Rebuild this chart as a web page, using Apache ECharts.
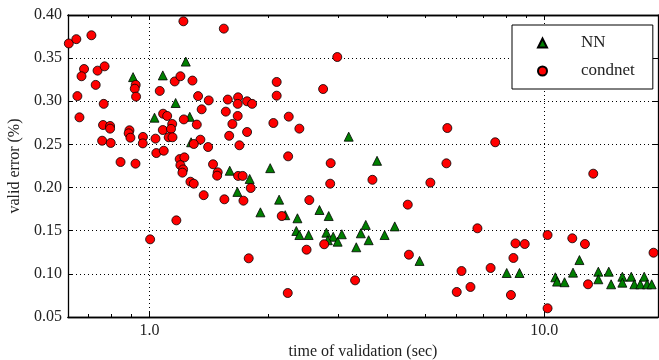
<!DOCTYPE html>
<html>
<head>
<meta charset="utf-8">
<script src="https://cdn.jsdelivr.net/npm/echarts@6/dist/echarts.min.js"></script>
<style>
    html, body { margin: 0; padding: 0; background: #fff; }
    #chart { width: 659px; height: 360px; }
</style>
</head>
<body>
<div id="chart"></div>
<script>
// NN 结果 (时间, 误差)
const nnTime = [0.909, 1.081, 1.236, 1.165, 1.030, 1.265, 1.275, 1.597, 2.022, 1.794,
    1.670, 2.13, 1.910, 2.695, 2.844, 2.37, 2.207, 2.355, 2.397, 2.53,
    2.806, 2.92, 2.83, 2.996, 3.07, 3.34, 3.43, 3.53, 3.59, 3.94,
    4.18, 4.83, 3.196, 3.77, 8.03, 8.65, 10.66, 10.77, 11.25, 11.82,
    12.27, 13.7, 13.7, 14.56, 14.76, 15.76, 15.76, 16.6, 16.9, 17.5,
    17.9, 18.2, 18.7];
const nnError = [0.328, 0.330, 0.346, 0.298, 0.281, 0.282, 0.2525, 0.2195, 0.2225, 0.210,
    0.195, 0.186, 0.1713, 0.174, 0.167, 0.1644, 0.168, 0.1497, 0.145, 0.145,
    0.1477, 0.143, 0.139, 0.1373, 0.1459, 0.1308, 0.147, 0.1567, 0.139, 0.145,
    0.155, 0.115, 0.259, 0.231, 0.101, 0.101, 0.096, 0.091, 0.0903, 0.1014,
    0.116, 0.1025, 0.0937, 0.1025, 0.0879, 0.0967, 0.0898, 0.0967, 0.0879, 0.0879,
    0.0967, 0.0879, 0.0879];

// condnet 结果 (时间, 误差)
const condnetTime = [0.625, 0.653, 0.713, 0.683, 0.673, 0.739, 0.770, 0.731, 0.657, 0.665,
    0.766, 0.763, 0.795, 0.795, 0.759, 0.798, 0.845, 0.890, 0.886, 0.895,
    0.922, 0.923, 0.918, 0.925, 0.963, 0.962, 1.036, 1.041, 1.087, 1.062,
    1.083, 1.109, 1.081, 1.142, 1.134, 1.119, 1.144, 1.159, 1.198, 1.219,
    1.285, 1.328, 1.413, 1.356, 1.222, 1.318, 1.346, 1.295, 1.408, 1.193,
    1.226, 1.198, 1.217, 1.212, 1.449, 1.489, 1.484, 1.270, 1.295, 1.372,
    1.170, 1.004, 1.543, 1.579, 1.677, 1.673, 1.767, 1.820, 1.561, 1.673,
    1.622, 1.592, 1.767, 1.690, 1.677, 1.722, 1.805, 1.548, 1.730, 1.784,
    2.10, 2.10, 2.06, 2.253, 2.397, 2.245, 2.163, 2.24, 2.50, 2.54,
    2.753, 2.99, 2.877, 2.869, 2.77, 3.317, 3.67, 4.51, 4.54, 5.145,
    5.68, 5.65, 7.51, 6.77, 6.17, 6.0, 6.5, 7.31, 8.45, 8.92,
    8.35, 8.23, 10.19, 10.19, 11.77, 12.67, 12.9, 13.3, 18.9];
const condnetError = [0.367, 0.372, 0.3765, 0.3374, 0.329, 0.3355, 0.3405, 0.319, 0.306, 0.2814,
    0.297, 0.2725, 0.2714, 0.2683, 0.2543, 0.2517, 0.2296, 0.2664, 0.2629, 0.2578,
    0.2277, 0.319, 0.3146, 0.3054, 0.2587, 0.2512, 0.2567, 0.240, 0.2427, 0.312,
    0.2856, 0.283, 0.2667, 0.2737, 0.268, 0.2583, 0.2583, 0.323, 0.329, 0.3927,
    0.324, 0.306, 0.301, 0.2907, 0.279, 0.273, 0.2555, 0.2505, 0.247, 0.233,
    0.235, 0.226, 0.221, 0.2173, 0.227, 0.2177, 0.2138, 0.2068, 0.2045, 0.1912,
    0.162, 0.140, 0.3842, 0.302, 0.3046, 0.297, 0.300, 0.297, 0.288, 0.283,
    0.2737, 0.260, 0.2644, 0.249, 0.2135, 0.2135, 0.1995, 0.1864, 0.1848, 0.118,
    0.3224, 0.3065, 0.2748, 0.2822, 0.2683, 0.2362, 0.167, 0.0778, 0.128, 0.1855,
    0.3142, 0.3513, 0.2283, 0.2045, 0.1343, 0.0925, 0.209, 0.1802, 0.1222, 0.2057,
    0.269, 0.2281, 0.2525, 0.1528, 0.1033, 0.079, 0.0848, 0.1068, 0.1353, 0.1346,
    0.1184, 0.0755, 0.145, 0.0601, 0.1412, 0.1346, 0.0879, 0.2161, 0.1245];

// 坐标轴刻度
const xMinorTicks = [0.7, 0.8, 0.9, 2, 3, 4, 5, 6, 7, 8, 9];
const xMajorTicks = [1, 10];
const X_MIN = 0.622;
const X_MAX = 19.4;

const FONT = 'Liberation Serif';
const TEXT_COLOR = '#222';

const zip = (xs, ys) => xs.map((x, i) => [x, ys[i]]);

// x 轴 (底部/顶部，主刻度/次刻度)
function makeXAxis(position, ticks, length, withLabel) {
    return {
        type: 'log',
        logBase: 10,
        min: X_MIN,
        max: X_MAX,
        position: position,
        axisLine: { show: true, onZero: false, lineStyle: { color: '#000', width: 1.3 } },
        axisTick: { show: true, inside: true, length: length, customValues: ticks, lineStyle: { color: '#000', width: 1 } },
        axisLabel: withLabel ? {
            show: true,
            customValues: xMajorTicks,
            formatter: v => Number(v).toFixed(1),
            fontFamily: FONT,
            fontSize: 16,
            color: TEXT_COLOR,
            margin: 6
        } : { show: false },
        splitLine: { show: false }
    };
}

const xAxes = [
    makeXAxis('bottom', xMajorTicks, 5, true),
    makeXAxis('bottom', xMinorTicks, 3, false),
    makeXAxis('top', xMajorTicks, 5, false),
    makeXAxis('top', xMinorTicks, 3, false)
];
xAxes[0].name = 'time of validation (sec)';
xAxes[0].nameLocation = 'middle';
xAxes[0].nameGap = 26;
xAxes[0].nameTextStyle = { fontFamily: FONT, fontSize: 16, color: TEXT_COLOR };

// 网格点线 (单独一根隐藏的轴来画)
xAxes.push({
    type: 'log', logBase: 10, min: X_MIN, max: X_MAX, position: 'bottom',
    axisLine: { show: false }, axisTick: { show: false }, axisLabel: { show: false },
    splitLine: { show: true, lineStyle: { color: '#000', width: 1, type: [1, 3] } }
});

const chart = echarts.init(document.getElementById('chart'), null, { renderer: 'canvas' });

const option = {
    animation: false,
    backgroundColor: '#fff',
    grid: { left: 68, right: 1, top: 15, bottom: 43, containLabel: false, outerBoundsMode: 'none' },
    legend: {
        orient: 'vertical',
        left: 512,
        top: 25,
        padding: [8, 18, 8, 25],
        itemGap: 8,
        itemWidth: 9,
        itemHeight: 9,
        backgroundColor: '#fff',
        borderColor: '#000',
        borderWidth: 1,
        borderRadius: 0,
        textStyle: { fontFamily: FONT, fontSize: 17, color: TEXT_COLOR, lineHeight: 20, padding: [0, 0, 0, 29] },
        data: ['NN', 'condnet']
    },
    xAxis: xAxes,
    yAxis: [
        {
            type: 'value',
            min: 0.05,
            max: 0.40,
            interval: 0.05,
            position: 'left',
            name: 'valid error (%)',
            nameLocation: 'middle',
            nameGap: 40,
            nameTextStyle: { fontFamily: FONT, fontSize: 16, color: TEXT_COLOR },
            axisLine: { show: true, onZero: false, lineStyle: { color: '#000', width: 1.3 } },
            axisTick: { show: true, inside: true, length: 5, lineStyle: { color: '#000' } },
            axisLabel: { formatter: v => v.toFixed(2), fontFamily: FONT, fontSize: 16, color: TEXT_COLOR, margin: 6 },
            splitLine: { show: true, lineStyle: { color: '#000', width: 1, type: [1, 3] } }
        },
        {
            type: 'value',
            min: 0.05,
            max: 0.40,
            interval: 0.05,
            position: 'right',
            axisLine: { show: true, onZero: false, lineStyle: { color: '#000', width: 1.3 } },
            axisTick: { show: true, inside: true, length: 5, lineStyle: { color: '#000' } },
            axisLabel: { show: false },
            splitLine: { show: false }
        }
    ],
    series: [
        {
            name: 'NN',
            type: 'scatter',
            symbol: 'triangle',
            symbolSize: 9,
            xAxisIndex: 0,
            yAxisIndex: 0,
            itemStyle: { color: '#007f00', borderColor: '#000', borderWidth: 0.8, opacity: 1 },
            data: zip(nnTime, nnError)
        },
        {
            name: 'condnet',
            type: 'scatter',
            symbol: 'circle',
            symbolSize: 9,
            xAxisIndex: 0,
            yAxisIndex: 0,
            itemStyle: { color: '#ff0000', borderColor: '#000', borderWidth: 0.8, opacity: 1 },
            data: zip(condnetTime, condnetError)
        }
    ]
};

chart.setOption(option);
</script>
</body>
</html>
